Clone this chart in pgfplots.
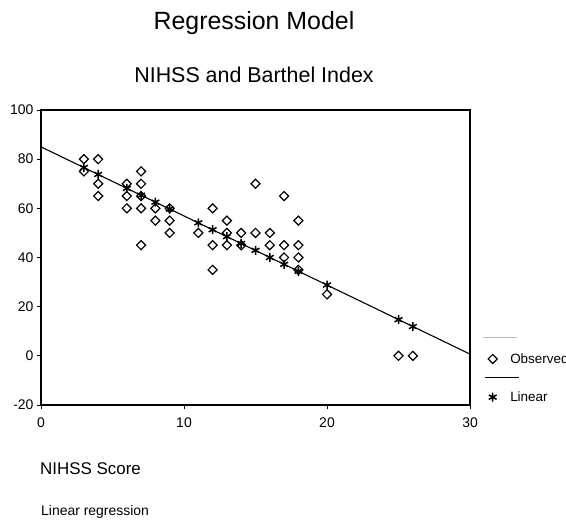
\documentclass[border=0pt]{standalone}
\usepackage{fontspec}
\setmainfont{Liberation Sans}
\usepackage{pgfplots}
\pgfplotsset{compat=1.18}

% observed Barthel index against NIHSS score
\pgfplotstableread{
x y
3 80
3 75
4 80
4 70
4 65
6 70
6 65
6 60
7 75
7 70
7 65
7 60
7 45
8 60
8 55
9 60
9 55
9 50
11 50
12 60
12 45
12 35
13 55
13 50
13 45
14 50
14 45
15 70
15 50
16 50
16 45
17 65
17 45
17 40
18 55
18 45
18 40
18 35
20 25
25 0
26 0
}\observed

% fitted values
\pgfplotstableread{
x y
3 76.6
4 73.8
6 68.1
7 65.3
8 62.5
9 59.7
11 54.1
12 51.3
13 48.5
14 45.7
15 42.9
16 40.0
17 37.2
18 34.4
20 28.8
25 14.7
26 11.9
}\fitted

\pgfplotsset{
  obsleg/.style={legend image code/.code={
    \draw[overlay, gray!55, line width=1bp] (-10bp,21bp) -- (24bp,21bp);
    \draw[mark repeat=1, mark phase=1, ##1] plot coordinates {(0bp,0bp)};
  }},
  linleg/.style={legend image code/.code={
    \draw[overlay, black, line width=1bp] (-8bp,20bp) -- (26bp,20bp);
    \draw[mark repeat=1, mark phase=1, ##1] plot coordinates {(0bp,0bp)};
  }},
}

\begin{document}
\begin{tikzpicture}[x=1bp,y=1bp]
\useasboundingbox (-41,-118) rectangle (525,405);
\clip (-41,-118) rectangle (525,405);

\node[font=\fontsize{25}{29}\selectfont] at (213,382) {Regression Model};
\node[font=\fontsize{21.5}{25}\selectfont] at (213,330) {NIHSS and Barthel Index};
\node[font=\fontsize{17}{20}\selectfont, anchor=west, inner sep=0pt] at (-1,-64) {NIHSS Score};
\node[font=\fontsize{14}{17}\selectfont, anchor=west, inner sep=0pt] at (0,-107) {Linear regression};

\begin{axis}[
  at={(0,0)}, anchor=south west,
  scale only axis, width=429bp, height=295bp,
  xmin=0, xmax=30, ymin=-20, ymax=100,
  xtick={0,10,20,30}, ytick={-20,0,20,40,60,80,100},
  tick align=outside, xtick pos=bottom, ytick pos=left,
  major tick length=4bp,
  axis line style={line width=1.1bp},
  tick style={black, line width=0.8bp},
  ticklabel style={font=\fontsize{14}{16}\selectfont},
  xticklabel style={yshift=-5bp},
  /pgf/number format/assume math mode=true,
  legend cell align=left,
  legend style={draw=none, fill=none, inner sep=0pt, row sep=27bp,
    column sep=13bp,
    font=\fontsize{13.5}{15}\selectfont,
    nodes={inner sep=0pt},
    at={(1,0)}, anchor=south west, xshift=18bp, yshift=2bp},
]
\addplot[only marks, mark=square, mark size=3.2bp,
  mark options={rotate=45, line width=1.2bp, fill=white, draw=black},
  obsleg] table[x=x, y=y] {\observed};
\addlegendentry{Observed}

\addplot[black, line width=1.1bp, forget plot] coordinates {(0,85) (30,0.7)};

\addplot[only marks, mark=asterisk, mark size=4.5bp,
  mark options={line width=1.5bp, black},
  linleg] table[x=x, y=y] {\fitted};
\addlegendentry{Linear}
\end{axis}
\end{tikzpicture}
\end{document}
